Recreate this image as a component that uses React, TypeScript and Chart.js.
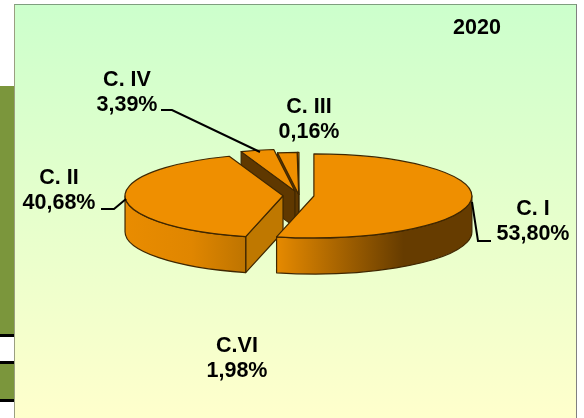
import React, { useEffect, useRef } from "react";
import { Chart, registerables } from "chart.js";

Chart.register(...registerables);

const categories = ["C. I", "C. II", "C. IV", "C.VI", "C. III"];
const values = [53.8, 40.68, 3.39, 1.98, 0.16];
const yearLabel = "2020";

const TOP = "#EF8F00";
const EDGE = "#3F2700";
const explode = [15, 16, 17, 4, 4];
const wallStops: [number, string][][] = [
  [[0, "#E68A00"], [0.65, "#663C00"], [1, "#663C00"]],
  [[0, "#E98C00"], [0.55, "#E08600"], [1, "#BE7400"]],
  [[0, "#663C00"], [1, "#663C00"]],
  [[0, "#663C00"], [1, "#663C00"]],
  [[0, "#663C00"], [1, "#663C00"]],
];
const faceColor = ["#663C00", "#BF7800", "#5F3800", "#5F3800", "#5F3800"];
const labelAt: [number, number][] = [
  [533, 209],
  [59, 178],
  [127, 80],
  [237, 346],
  [309, 107],
];
const leaders: [number, number][][] = [
  [[472, 202], [478, 241], [491, 241]],
  [[101, 209], [114, 209], [126, 199]],
  [[161, 110], [172, 110], [260, 152]],
];
const Y_RATIO = 42 / 158;
const DEPTH = 36;
const FONT = "bold 21.5px 'Liberation Sans', Arial, sans-serif";

const fmt = (v: number) => v.toFixed(2).replace(".", ",") + "%";

const pie3d = {
  id: "pie3d",
  beforeDatasetsDraw(chart: any) {
    const ctx: CanvasRenderingContext2D = chart.ctx;
    const arcs = chart.getDatasetMeta(0).data as any[];
    const order = arcs
      .map((a, i) => ({ a, i, mid: (a.startAngle + a.endAngle) / 2 }))
      .sort((p, q) => Math.sin(p.mid) - Math.sin(q.mid));
    ctx.save();
    ctx.lineWidth = 1.2;
    ctx.strokeStyle = EDGE;
    ctx.lineJoin = "round";
    for (const { a, i, mid } of order) {
      const rx = a.outerRadius;
      const ry = rx * Y_RATIO;
      const x = a.x + Math.cos(mid) * explode[i];
      const y = a.y + Math.sin(mid) * explode[i] * Y_RATIO;
      const s = a.startAngle;
      const e = a.endAngle;
      const pt = (t: number) => [x + rx * Math.cos(t), y + ry * Math.sin(t)];
      const face = (t: number) => {
        const [px, py] = pt(t);
        ctx.beginPath();
        ctx.moveTo(x, y);
        ctx.lineTo(px, py);
        ctx.lineTo(px, py + DEPTH);
        ctx.lineTo(x, y + DEPTH);
        ctx.closePath();
        ctx.fillStyle = faceColor[i];
        ctx.fill();
        ctx.stroke();
      };
      if (Math.cos(s) < -1e-6) face(s);
      if (Math.cos(e) > 1e-6) face(e);
      const a0 = Math.max(s, 0);
      const a1 = Math.min(e, Math.PI);
      if (a1 > a0) {
        const x0 = x + rx * Math.cos(a1);
        const x1 = x + rx * Math.cos(a0);
        const g = ctx.createLinearGradient(Math.min(x0, x1), 0, Math.max(x0, x1), 0);
        for (const [o, c] of wallStops[i]) g.addColorStop(o, c);
        ctx.beginPath();
        ctx.ellipse(x, y, rx, ry, 0, a0, a1);
        ctx.ellipse(x, y + DEPTH, rx, ry, 0, a1, a0, true);
        ctx.closePath();
        ctx.fillStyle = g;
        ctx.fill();
        ctx.stroke();
      }
      ctx.beginPath();
      ctx.moveTo(x, y);
      ctx.ellipse(x, y, rx, ry, 0, s, e);
      ctx.closePath();
      ctx.fillStyle = TOP;
      ctx.fill();
      ctx.stroke();
    }
    ctx.restore();
    return false;
  },
  afterDraw(chart: any) {
    const ctx: CanvasRenderingContext2D = chart.ctx;
    ctx.save();
    ctx.strokeStyle = "#000";
    ctx.lineWidth = 2;
    for (const l of leaders) {
      ctx.beginPath();
      l.forEach(([px, py], k) => (k ? ctx.lineTo(px, py) : ctx.moveTo(px, py)));
      ctx.stroke();
    }
    ctx.fillStyle = "#000";
    ctx.font = FONT;
    ctx.textAlign = "center";
    ctx.textBaseline = "middle";
    categories.forEach((c, i) => {
      const [px, py] = labelAt[i];
      ctx.fillText(c, px, py);
      ctx.fillText(fmt(values[i]), px, py + 25);
    });
    ctx.fillText(yearLabel, 477, 28);
    ctx.restore();
  },
};

const box = (left: number, top: number, width: number, height: number, background: string): React.CSSProperties => ({
  position: "absolute",
  left,
  top,
  width,
  height,
  background,
});

export default function App() {
  const ref = useRef<HTMLCanvasElement>(null);
  useEffect(() => {
    const chart = new Chart(ref.current!, {
      type: "pie",
      data: {
        labels: categories,
        datasets: [{ data: values, backgroundColor: TOP, borderColor: EDGE, borderWidth: 1 }],
      },
      options: {
        responsive: false,
        animation: false,
        radius: 158,
        layout: { padding: { left: 14, bottom: 27 } },
        plugins: { legend: { display: false }, tooltip: { enabled: false } },
      } as any,
      plugins: [pie3d as any],
    });
    return () => chart.destroy();
  }, []);
  return (
    <div style={{ position: "fixed", left: 0, top: 0, width: 584, height: 418, background: "#fff", overflow: "hidden" }}>
      <div style={box(0, 86, 14, 248, "#7B963C")} />
      <div style={box(0, 334, 14, 3, "#000")} />
      <div style={box(0, 361, 14, 3, "#000")} />
      <div style={box(0, 364, 14, 35, "#7B963C")} />
      <div style={box(0, 399, 14, 3, "#000")} />
      <div
        style={{
          ...box(14, 4, 563, 414, "linear-gradient(#CCFFCC, #FFFFCC)"),
          boxSizing: "border-box",
          borderLeft: "1px solid #9A9F80",
          borderTop: "1px solid #7F9F7F",
          borderRight: "1px solid #808080",
        }}
      />
      <canvas ref={ref} width={584} height={418} style={{ position: "absolute", left: 0, top: 0 }} />
    </div>
  );
}
